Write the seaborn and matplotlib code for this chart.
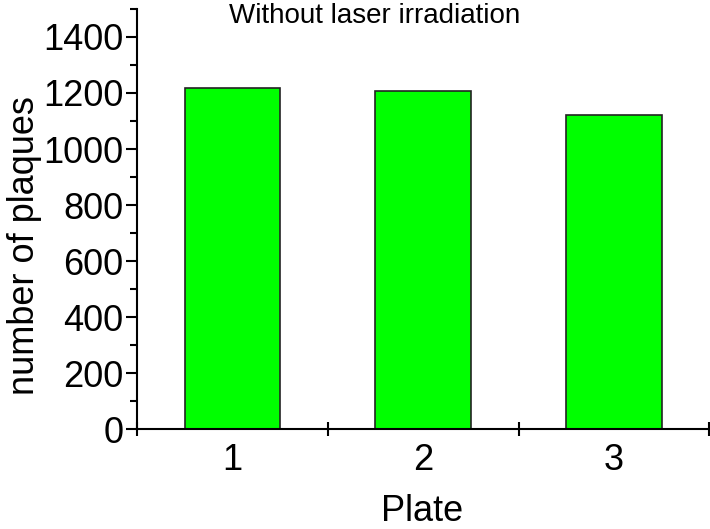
import matplotlib
matplotlib.use("Agg")
import matplotlib.pyplot as plt
import seaborn as sns
import numpy as np
from matplotlib.ticker import FixedLocator

# plate numbers and plaque counts
plates = ["1", "2", "3"]
plaques = [1218, 1208, 1123]

sns.set_style("ticks")
plt.rcParams['font.family'] = ['Liberation Sans', 'DejaVu Sans']
plt.rcParams['text.color'] = 'black'
plt.rcParams['axes.labelcolor'] = 'black'
plt.rcParams['xtick.color'] = 'black'
plt.rcParams['ytick.color'] = 'black'
plt.rcParams['axes.edgecolor'] = 'black'

fig = plt.figure(figsize=(7.1, 5.29), dpi=100)
ax = fig.add_axes([0.193, 0.189, 0.806, 0.794])

sns.barplot(x=plates, y=plaques, color="#00ff00", edgecolor="#222222",
            linewidth=1.2, width=0.5, saturation=1, ax=ax)

ax.set_xlim(-0.5, 2.5)
ax.set_ylim(0, 1500)
ax.yaxis.set_major_locator(FixedLocator(np.arange(0, 1401, 200)))
ax.yaxis.set_minor_locator(FixedLocator(np.arange(100, 1501, 200)))
ax.xaxis.set_minor_locator(FixedLocator([-0.5, 0.5, 1.5, 2.5]))

ax.tick_params(axis="y", which="major", direction="out", length=8, width=1.5, labelsize=26, pad=2)
ax.tick_params(axis="y", which="minor", direction="out", length=5, width=1.5)
ax.tick_params(axis="x", which="major", length=0, labelsize=26, pad=10)
ax.tick_params(axis="x", which="minor", direction="inout", length=10, width=1.5)

sns.despine(ax=ax)
ax.spines["left"].set_linewidth(1.5)
ax.spines["bottom"].set_linewidth(1.5)

ax.set_xlabel("Plate", fontsize=26)
ax.set_ylabel("number of plaques", fontsize=26)
ax.xaxis.set_label_coords(0.498, -0.154)
ax.yaxis.set_label_coords(-0.166, 0.436)
fig.text(0.528, 0.995, "Without laser irradiation", fontsize=20, ha="center", va="top")

fig.savefig("out.png", dpi=100)
